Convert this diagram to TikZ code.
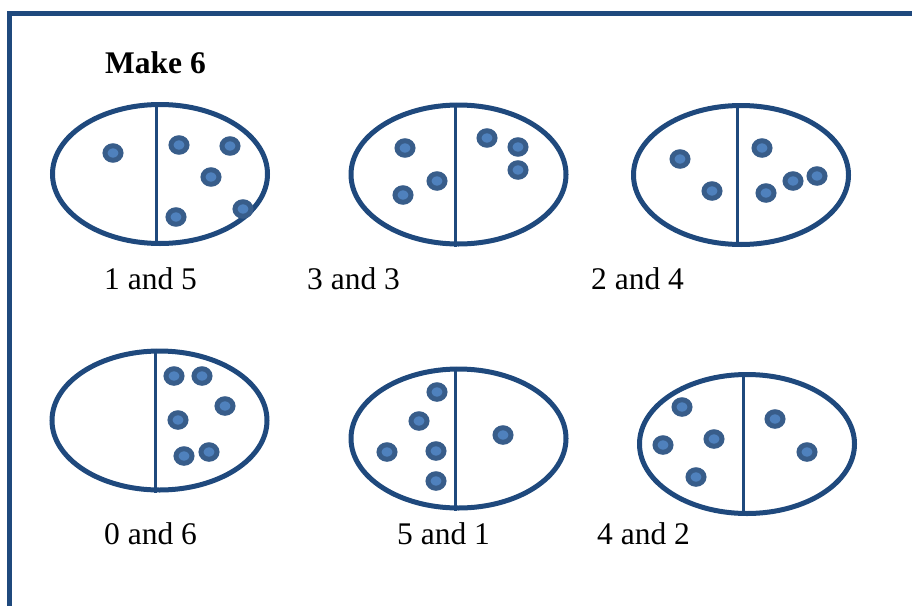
\documentclass[tikz,border=0pt]{standalone}
\usepackage{fontspec}
\setmainfont{Liberation Serif}
\usetikzlibrary{shapes.geometric}
\definecolor{trayBlue}{HTML}{1F497D}
\definecolor{dotFill}{HTML}{4F81BD}
\definecolor{dotEdge}{HTML}{385D8A}

\begin{document}
\begin{tikzpicture}[x=1pt,y=-1pt,
  tray/.style={ellipse,draw=trayBlue,line width=5pt,minimum width=215pt,minimum height=139pt,inner sep=0pt},
  divider/.style={trayBlue,line width=3pt},
  counter/.style={fill=dotFill,draw=dotEdge,line width=5pt},
  caption/.style={anchor=base west,inner sep=0pt,font=\fontsize{31.5}{36}\selectfont}]
  \useasboundingbox (0,0) rectangle (912,605);
  \clip (0,0) rectangle (912,605);
  \draw[trayBlue,line width=5pt] (9.5,620) |- (925,13);
  \node[caption,font=\fontsize{31.5}{36}\selectfont\bfseries] (title) at (105,73) {Make 6};
  % the six trays, each split in two
  \foreach \n/\x/\y/\d in {t1/160/174/-4,t2/458.5/174.5/-3.5,t3/741/175/-4,
                           t4/159.5/420.5/-4.5,t5/458.5/438.5/-3.5,t6/747/444/-4}{
    \node[tray] (\n) at (\x,\y) {};
    \draw[divider] ([xshift=\d]\n.north) -- ([xshift=\d]\n.south);
  }
  % counters
  \foreach \x/\y in {113/153,179/145,230/146,211/177,176/217,243/209,
                     405/148,437/181,403/195,487/138,518/147,518/170,
                     680/159,712/191,762/148,766/193,793/181,817/176,
                     174/376,202/376,225/406,178/420,184/456,209/452,
                     437/392,419/421,387/452,436/451,436/481,503/435,
                     682/407,663/445,714/439,696/477,775/419,807/452}{
    \draw[counter] (\x,\y) ellipse [x radius=8,y radius=7.25];
  }
  \node[caption] (cap15) at (104,289) {1 and 5};
  \node[caption] (cap33) at (307,289) {3 and 3};
  \node[caption] (cap24) at (591,289) {2 and 4};
  \node[caption] (cap06) at (104,544) {0 and 6};
  \node[caption] (cap51) at (397,544) {5 and 1};
  \node[caption] (cap42) at (597,544) {4 and 2};
\end{tikzpicture}
\end{document}
